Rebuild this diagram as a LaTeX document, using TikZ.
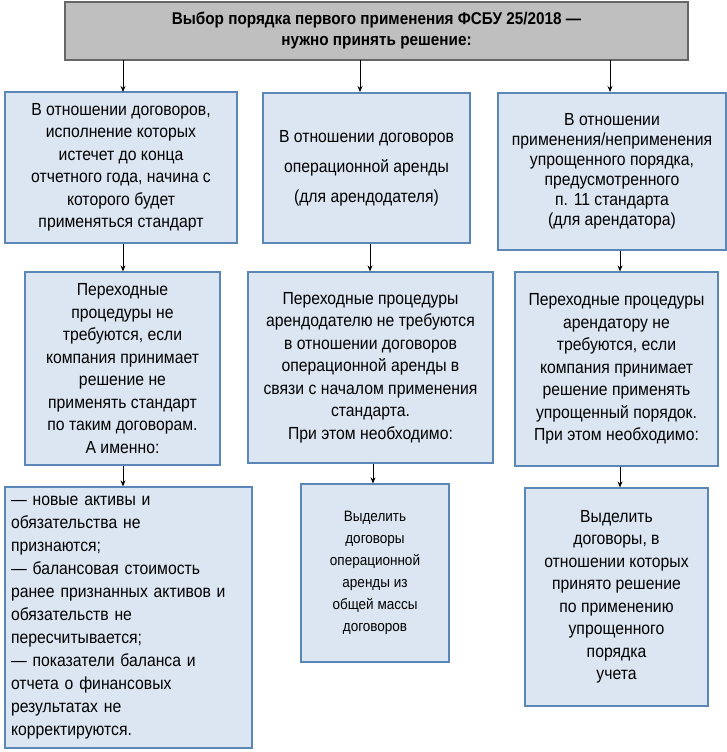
\documentclass[tikz,border=0pt]{standalone}
\usepackage{fontspec}
\setmainfont{Liberation Sans}[FakeStretch=0.9]
\usetikzlibrary{arrows.meta}
\definecolor{bfill}{HTML}{DCE6F2}
\definecolor{bline}{HTML}{5B87B8}
\begin{document}
\begin{tikzpicture}[x=1pt,y=-1pt,
  bx/.style={draw=bline,line width=1.2pt,fill=bfill,align=center,inner sep=2pt,
    font=\fontsize{17.5}{22.5}\selectfont},
  arr/.style={-{Stealth[length=6pt,width=5pt]},line width=0.8pt}]
\useasboundingbox (0,0) rectangle (727,752);
\newcommand{\bxat}[6]{\node[bx,minimum width=#3-#2,minimum height=#5-#4,#6] at ({(#2+#3)/2},{(#4+#5)/2})}
\bxat{t}{65}{688}{2}{60}{fill=black!25,draw=black!60,font=\bfseries\fontsize{17}{21}\selectfont} (t) {Выбор порядка первого применения ФСБУ 25/2018 —\\нужно принять решение:};
\bxat{a}{5}{237}{92}{243}{} (a) {В отношении договоров,\\исполнение которых\\истечет до конца\\отчетного года, начина с\\которого будет\\применяться стандарт};
\bxat{b}{263}{470}{93}{243}{font=\fontsize{17.5}{30}\selectfont} (b) {В отношении договоров\\операционной аренды\\(для арендодателя)};
\bxat{c}{498}{726}{93}{250}{font=\fontsize{17.5}{20}\selectfont} (c) {В отношении\\применения/неприменения\\упрощенного порядка,\\предусмотренного\\п. 11 стандарта\\(для арендатора)};
\bxat{a2}{25}{220}{272}{465}{} (a2) {Переходные\\процедуры не\\требуются, если\\компания принимает\\решение не\\применять стандарт\\по таким договорам.\\А именно:};
\bxat{b2}{248}{493}{272}{463}{} (b2) {Переходные процедуры\\арендодателю не требуются\\в отношении договоров\\операционной аренды в\\связи с началом применения\\стандарта.\\При этом необходимо:};
\bxat{c2}{515}{718}{272}{466}{} (c2) {Переходные процедуры\\арендатору не\\требуются, если\\компания принимает\\решение применять\\упрощенный порядок.\\При этом необходимо:};
\bxat{a3}{5}{252}{487}{748}{align=left,text width=235pt,font=\fontsize{17.5}{23}\selectfont} (a3) {— новые активы и\\обязательства не\\признаются;\\— балансовая стоимость\\ранее признанных активов и\\обязательств не\\пересчитывается;\\— показатели баланса и\\отчета о финансовых\\результатах не\\корректируются.};
\bxat{b3}{301}{449}{484}{662}{font=\fontsize{15}{22}\selectfont} (b3) {Выделить\\договоры\\операционной\\аренды из\\общей массы\\договоров};
\bxat{c3}{525}{708}{488}{706}{} (c3) {Выделить\\договоры, в\\отношении которых\\принято решение\\по применению\\упрощенного\\порядка\\учета};
\draw[arr] (123,60) -- (123,92);
\draw[arr] (360,60) -- (360,92);
\draw[arr] (610,60) -- (610,92);
\draw[arr] (a.south -| 123,0) -- (a2.north -| 123,0);
\draw[arr] (b.south -| 370,0) -- (b2.north -| 370,0);
\draw[arr] (c.south -| 620,0) -- (c2.north -| 620,0);
\draw[arr] (a2.south -| 123,0) -- (a3.north -| 123,0);
\draw[arr] (b2.south -| 373,0) -- (b3.north -| 373,0);
\draw[arr] (c2.south -| 620,0) -- (c3.north -| 620,0);
\end{tikzpicture}
\end{document}
